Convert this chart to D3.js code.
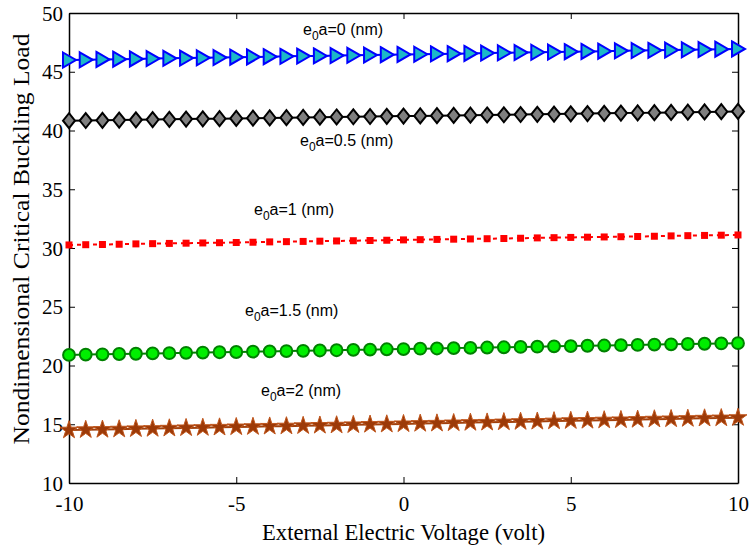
<!DOCTYPE html>
<html>
<head>
<meta charset="utf-8">
<script src="https://cdn.jsdelivr.net/npm/d3@7"></script>
<style>
html,body{margin:0;padding:0;background:#fff;}
svg{display:block;}
</style>
</head>
<body>
<svg id="chart" width="751" height="547"></svg>
<script>
const voltage = [-10,-9.5,-9,-8.5,-8,-7.5,-7,-6.5,-6,-5.5,-5,-4.5,-4,-3.5,-3,-2.5,-2,-1.5,-1,-0.5,0,0.5,1,1.5,2,2.5,3,3.5,4,4.5,5,5.5,6,6.5,7,7.5,8,8.5,9,9.5,10];
const load_e0 = [46.00,46.02,46.05,46.07,46.09,46.12,46.14,46.16,46.19,46.21,46.24,46.26,46.28,46.31,46.33,46.35,46.38,46.40,46.42,46.45,46.47,46.49,46.52,46.54,46.56,46.59,46.61,46.63,46.66,46.68,46.71,46.73,46.75,46.78,46.80,46.82,46.85,46.87,46.89,46.92,46.94];
const load_e05 = [40.83,40.85,40.87,40.89,40.91,40.93,40.95,40.97,40.99,41.01,41.03,41.05,41.07,41.09,41.11,41.13,41.15,41.17,41.19,41.21,41.23,41.24,41.26,41.28,41.30,41.32,41.34,41.36,41.38,41.40,41.42,41.44,41.46,41.48,41.50,41.52,41.54,41.56,41.58,41.60,41.62];
const load_e1 = [30.26,30.28,30.30,30.32,30.35,30.37,30.39,30.41,30.43,30.45,30.47,30.49,30.52,30.54,30.56,30.58,30.60,30.62,30.64,30.66,30.69,30.71,30.73,30.75,30.77,30.79,30.81,30.83,30.86,30.88,30.90,30.92,30.94,30.96,30.98,31.00,31.03,31.05,31.07,31.09,31.11];
const load_e15 = [20.90,20.93,20.95,20.98,21.00,21.03,21.05,21.08,21.10,21.13,21.15,21.18,21.20,21.23,21.25,21.28,21.30,21.33,21.35,21.38,21.40,21.43,21.45,21.48,21.50,21.53,21.55,21.58,21.60,21.63,21.65,21.68,21.70,21.73,21.75,21.78,21.80,21.83,21.85,21.88,21.90];
const load_e2 = [14.50,14.53,14.55,14.58,14.61,14.63,14.66,14.69,14.71,14.74,14.77,14.79,14.82,14.84,14.87,14.90,14.92,14.95,14.98,15.00,15.03,15.06,15.08,15.11,15.14,15.16,15.19,15.22,15.24,15.27,15.30,15.32,15.35,15.37,15.40,15.43,15.45,15.48,15.51,15.53,15.56];
const xTicks = [-10,-5,0,5,10];
const yTicks = [10,15,20,25,30,35,40,45,50];
const seriesLabels = ["0","0.5","1","1.5","2"];

const M = {left:69, right:738, top:13, bottom:483};
const svg = d3.select("#chart");
const x = d3.scaleLinear().domain([-10,10]).range([M.left, M.right]);
const y = d3.scaleLinear().domain([10,50]).range([M.bottom, M.top]);
const fmt = d => String(d); // plain hyphen-minus like the reference

// axes (inward ticks, boxed)
const tl = 6;
const axB = svg.append("g").attr("transform",`translate(0,${M.bottom})`)
  .call(d3.axisBottom(x).tickValues(xTicks).tickSizeInner(-tl).tickSizeOuter(0).tickFormat(fmt));
const axT = svg.append("g").attr("transform",`translate(0,${M.top})`)
  .call(d3.axisTop(x).tickValues(xTicks).tickSizeInner(-tl).tickSizeOuter(0).tickFormat(""));
const axL = svg.append("g").attr("transform",`translate(${M.left},0)`)
  .call(d3.axisLeft(y).tickValues(yTicks).tickSizeInner(-tl).tickSizeOuter(0).tickPadding(6).tickFormat(fmt));
const axR = svg.append("g").attr("transform",`translate(${M.right},0)`)
  .call(d3.axisRight(y).tickValues(yTicks).tickSizeInner(-tl).tickSizeOuter(0).tickFormat(""));
[axB,axT,axL,axR].forEach(a=>{
  a.select(".domain").attr("stroke","#000").attr("stroke-width",1.5);
  a.selectAll(".tick line").attr("stroke","#000").attr("stroke-width",1);
  a.selectAll("text").attr("font-family","'Liberation Serif','Times New Roman',serif").attr("font-size",21).attr("fill","#000");
});
axB.selectAll(".tick text").attr("y",28).attr("dy",0);
axL.selectAll(".tick text").attr("dy","0.34em");

// axis titles
svg.append("text").attr("x",(M.left+M.right)/2).attr("y",540)
  .attr("text-anchor","middle").attr("font-family","'Liberation Serif','Times New Roman',serif")
  .attr("font-size",24).attr("textLength",283).attr("lengthAdjust","spacingAndGlyphs")
  .text("External Electric Voltage (volt)");
svg.append("text").attr("transform","translate(29,239) rotate(-90)")
  .attr("text-anchor","middle").attr("font-family","'Liberation Serif','Times New Roman',serif")
  .attr("font-size",24).attr("textLength",411).attr("lengthAdjust","spacingAndGlyphs")
  .text("Nondimensional Critical Buckling Load");

const plot = svg.append("g");
function pts(vals){ return voltage.map((v,i)=>[v, vals[i]]); }
const line = d3.line().x(d=>x(d[0])).y(d=>y(d[1]));

const series = [
  {vals:load_e0, stroke:"#0000ff", lw:2, dash:null, mk:"tri", fill:"#1cb8c8", mkStroke:"#0000ff"},
  {vals:load_e05, stroke:"#000000", lw:2, dash:null, mk:"dia", fill:"#7f7f7f", mkStroke:"#000000"},
  {vals:load_e1, stroke:"#ff0000", lw:2, dash:"4,4", mk:"sq", fill:"#ff0000", mkStroke:"none"},
  {vals:load_e15, stroke:"#008000", lw:2, dash:null, mk:"cir", fill:"#00ee00", mkStroke:"#008000"},
  {vals:load_e2, stroke:"#a0400c", lw:2, dash:null, mk:"star", fill:"#9c3a08", mkStroke:"#c0561c"}
];
const markerPath = {
  tri: "M-6,-7.5L7,0L-6,7.5Z",
  dia: "M0,-7.5L6,0L0,7.5L-6,0Z",
  sq: "M-3.5,-3.5H3.5V3.5H-3.5Z",
  cir: d3.symbol(d3.symbolCircle, 110)(),
  star: d3.symbol(d3.symbolStar, 100)()
};
series.forEach(s=>{
  const data = pts(s.vals);
  const p = plot.append("path").datum(data).attr("d",line)
    .attr("fill","none").attr("stroke",s.stroke).attr("stroke-width",s.lw);
  if(s.dash) p.attr("stroke-dasharray",s.dash);
  plot.append("g").selectAll("path").data(data).join("path")
    .attr("transform",d=>`translate(${x(d[0])},${y(d[1])})`)
    .attr("d",markerPath[s.mk])
    .attr("fill",s.fill).attr("stroke",s.mkStroke)
    .attr("stroke-width", s.mk==="star"?1:2).attr("stroke-linejoin","miter");
});

// annotations
const ann = [
  {t:seriesLabels[0], x:303, y:35},
  {t:seriesLabels[1], x:300, y:146},
  {t:seriesLabels[2], x:254, y:215},
  {t:seriesLabels[3], x:245, y:316},
  {t:seriesLabels[4], x:261, y:396}
];
ann.forEach(a=>{
  const t = svg.append("text").attr("x",a.x).attr("y",a.y)
    .attr("font-family","'Liberation Sans',Arial,sans-serif").attr("font-size",16).attr("fill","#000");
  t.append("tspan").text("e");
  t.append("tspan").attr("font-size",12).attr("dy",5).text("0");
  t.append("tspan").attr("dy",-5).text(`a=${a.t} (nm)`);
});
</script>
</body>
</html>
